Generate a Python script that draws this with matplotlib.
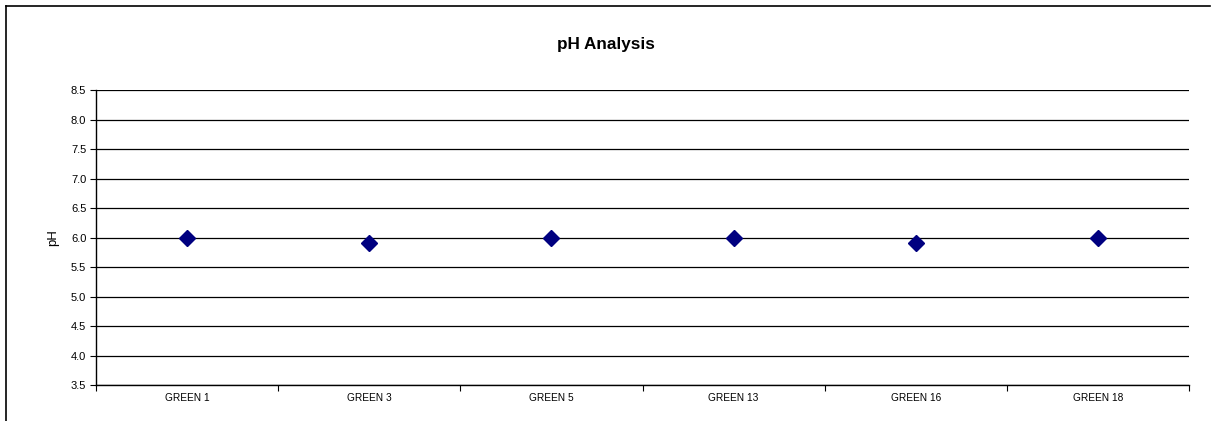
import numpy as np
import matplotlib
matplotlib.use("Agg")
import matplotlib.pyplot as plt
from matplotlib.lines import Line2D

plt.rcParams['font.family'] = ['Liberation Sans', 'DejaVu Sans']

samples = ["GREEN 1", "GREEN 3", "GREEN 5", "GREEN 13", "GREEN 16", "GREEN 18"]
ph_values = [6.0, 5.9, 6.0, 6.0, 5.9, 6.0]
y_ticks = np.arange(3.5, 8.51, 0.5)

fig = plt.figure(figsize=(12.15, 4.21), dpi=100)
ax = fig.add_axes([96 / 1215, 1 - 385 / 421, (1189 - 96) / 1215, (385 - 90) / 421])

x = np.arange(len(samples))
ax.plot(x, ph_values, linestyle="none", marker="D", markersize=8,
        color="#000080", zorder=3, clip_on=False)

ax.set_xlim(-0.5, len(samples) - 0.5)
ax.set_ylim(3.5, 8.5)
ax.set_yticks(y_ticks)
ax.set_yticklabels(["%.1f" % v for v in y_ticks])
ax.yaxis.grid(True, color="black", linewidth=0.9)
ax.set_axisbelow(True)

# category labels between boundary ticks
ax.set_xticks(np.arange(-0.5, len(samples), 1.0))
ax.set_xticklabels([])
ax.set_xticks(x, minor=True)
ax.set_xticklabels(samples, minor=True)
ax.tick_params(axis="x", which="minor", length=0, pad=6, labelsize=7.3)
ax.tick_params(axis="x", which="major", length=4, width=0.8, direction="out")
ax.tick_params(axis="y", length=4, width=0.8, labelsize=8, pad=3)

for side in ["top", "right"]:
    ax.spines[side].set_visible(False)
for side in ["left", "bottom"]:
    ax.spines[side].set_linewidth(1.0)
    ax.spines[side].set_color("black")

fig.text(53 / 1215, 1 - 238 / 421, "pH", rotation=90, ha="center", va="center",
         fontsize=9.5)
fig.text(606 / 1215, 1 - 44 / 421, "pH Analysis", ha="center", va="center",
         fontsize=12.3, fontweight="bold")

# chart frame (clipped at right and bottom)
fig.add_artist(Line2D([6 / 1215, 1210 / 1215], [1 - 6 / 421, 1 - 6 / 421],
                      color="black", linewidth=1.2, transform=fig.transFigure))
fig.add_artist(Line2D([6 / 1215, 6 / 1215], [1 - 6 / 421, 0],
                      color="black", linewidth=1.2, transform=fig.transFigure))

fig.savefig("out.png", dpi=100)
